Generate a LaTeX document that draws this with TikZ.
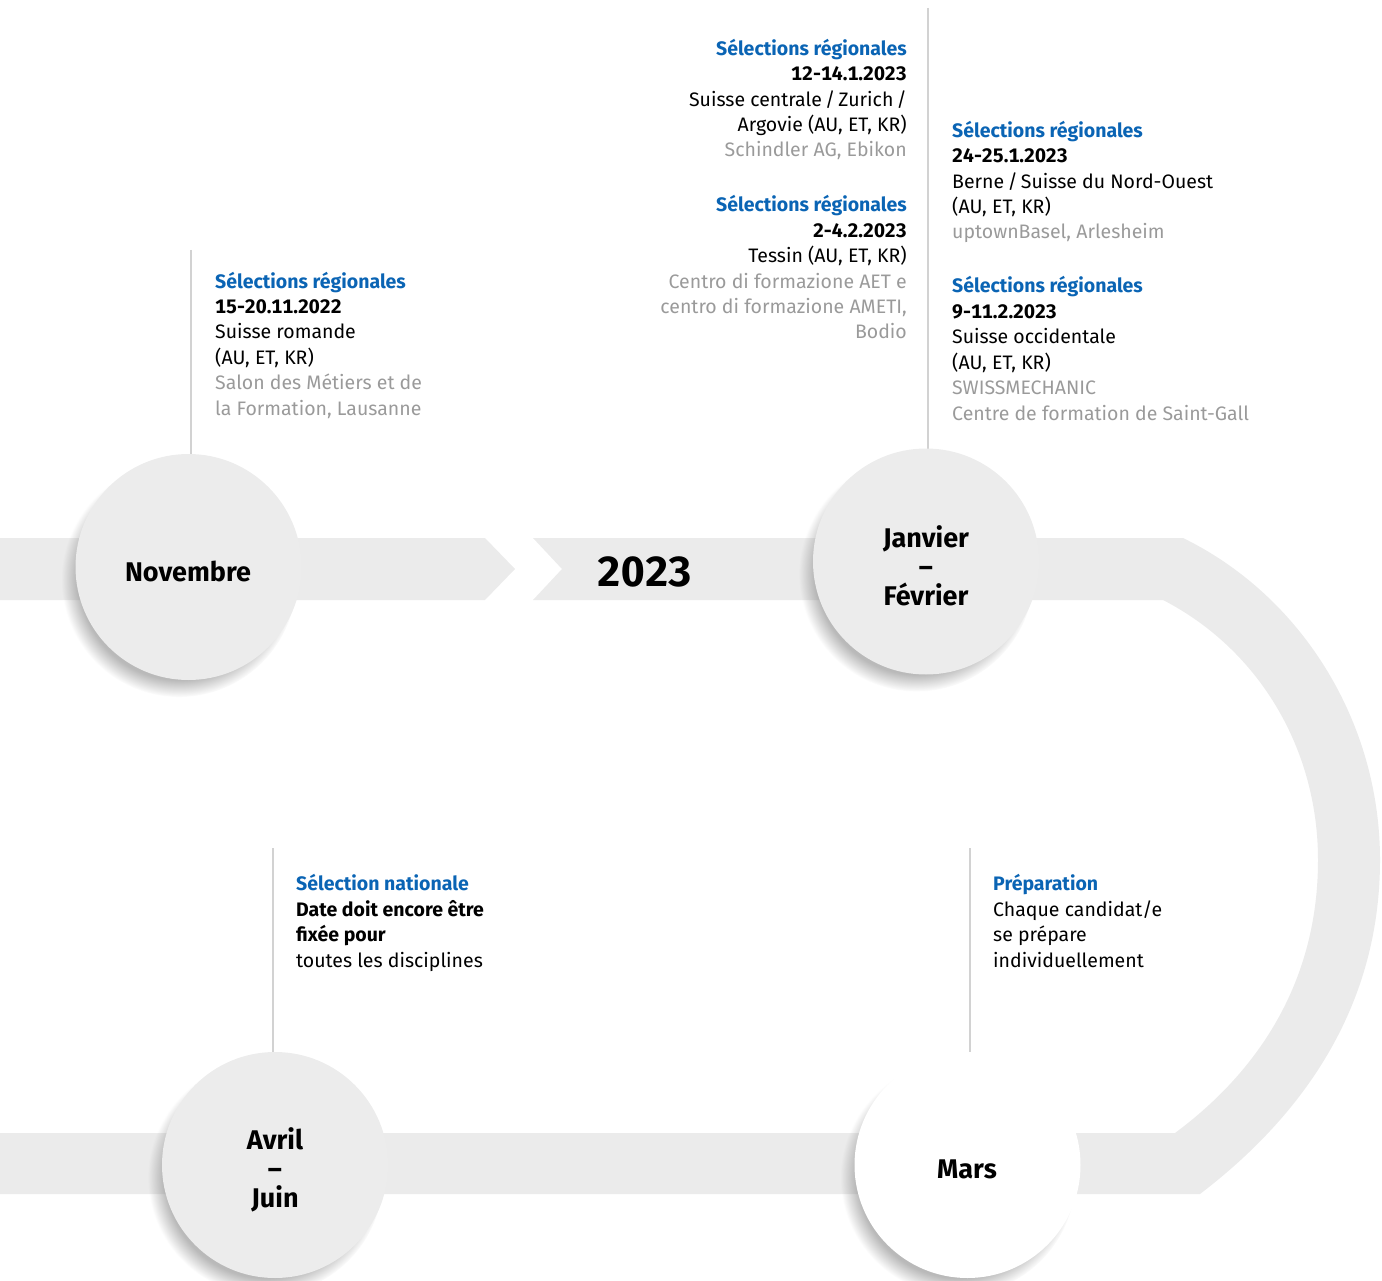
\documentclass[tikz,border=0pt]{standalone}
\usepackage{fontspec}
\setmainfont{Fira Sans}[Numbers=Monospaced]
\usetikzlibrary{shadows,calc}
\definecolor{bandgray}{HTML}{EBEBEB}
\definecolor{circgray}{HTML}{ECECEC}
\definecolor{selblue}{HTML}{0A64B4}
\definecolor{txtgray}{HTML}{9A9A9A}
\definecolor{linegray}{HTML}{D2D2D2}
\tikzset{
  monthcirc/.style={circle, minimum size=226pt, inner sep=0pt, fill=circgray,
    circular drop shadow={shadow xshift=-9pt, shadow yshift=-12pt, shadow scale=1.04, opacity=0.55}},
  monthlbl/.style={inner sep=0pt, font=\fontsize{27}{29}\selectfont\bfseries, align=center},
  vline/.style={draw=linegray, line width=1.2pt},
  infoL/.style={anchor=base west, inner sep=0pt, align=left, font=\fontsize{19.5}{25.4}\selectfont},
  infoR/.style={anchor=base east, inner sep=0pt, align=right, font=\fontsize{19.5}{25.4}\selectfont},
}
\newcommand{\hd}[1]{{\bfseries\color{selblue}#1}}
\newcommand{\gr}[1]{{\color{txtgray}#1}}
\begin{document}
\begin{tikzpicture}[x=1pt,y=-1pt]
\useasboundingbox (0,0) rectangle (1382,1281);
% bands
\fill[bandgray] (0,538) -- (485,538) -- (515,569) -- (485,600) -- (0,600) -- cycle;
\fill[bandgray] (533,538) -- (1183,538)
  .. controls (1300,595) and (1380,720) .. (1380,860)
  .. controls (1380,1000) and (1310,1110) .. (1200,1194)
  -- (0,1194) -- (0,1133) -- (1175,1133)
  .. controls (1260,1070) and (1318,980) .. (1318,860)
  .. controls (1318,750) and (1260,650) .. (1163,600)
  -- (533,600) -- (562,569) -- cycle;
% connector lines
\coordinate (novtop) at (191,250);
\coordinate (jantop) at (928,8);
\coordinate (avrtop) at (273,848);
\coordinate (martop) at (970,848);
\coordinate (novbot) at (191,460);
\coordinate (janbot) at (928,455);
\coordinate (avrbot) at (273,1058);
\coordinate (marbot) at (970,1058);
\draw[vline] (novtop) -- (novbot);
\draw[vline] (jantop) -- (janbot);
\draw[vline] (avrtop) -- (avrbot);
\draw[vline] (martop) -- (marbot);
% circles
\node[monthcirc] (nov) at (188.5,567) {};
\node[monthcirc] (jan) at (926,561.5) {};
\node[monthcirc] (avr) at (275,1165) {};
\node[monthcirc, fill=white] (mar) at (967.5,1165) {};
\node[monthlbl] (novl) at (188,571) {Novembre};
\node[monthlbl] (janl) at (926,566) {Janvier\\–\\Février};
\node[monthlbl] (avrl) at (275,1170) {Avril\\–\\Juin};
\node[monthlbl] (marl) at (967,1169) {Mars};
\node[font=\fontsize{42}{42}\selectfont\bfseries, inner sep=0pt] (year) at (645,572) {2023};
% info texts (anchored at the baseline of their last line)
\node[infoL] (t1) at (215,415) {\hd{Sélections régionales}\\ \textbf{15-20.11.2022}\\ Suisse romande\\ (AU, ET, KR)\\ \gr{Salon des Métiers et de}\\ \gr{la Formation, Lausanne}};
\node[infoR] (t2) at (907,157) {\hd{Sélections régionales}\\ \textbf{12-14.1.2023}\\ Suisse centrale\,/\,Zurich\,/\\ Argovie (AU, ET, KR)\\ \gr{Schindler AG, Ebikon}};
\node[infoR] (t3) at (907,339) {\hd{Sélections régionales}\\ \textbf{2-4.2.2023}\\ Tessin (AU, ET, KR)\\ \gr{Centro di formazione AET e}\\ \gr{centro di formazione AMETI,}\\ \gr{Bodio}};
\node[infoL] (t4) at (952,239) {\hd{Sélections régionales}\\ \textbf{24-25.1.2023}\\ Berne\,/\,Suisse du Nord-Ouest\\ (AU, ET, KR)\\ \gr{uptownBasel, Arlesheim}};
\node[infoL] (t5) at (952,420) {\hd{Sélections régionales}\\ \textbf{9-11.2.2023}\\ Suisse occidentale\\ (AU, ET, KR)\\ \gr{SWISSMECHANIC}\\ \gr{Centre de formation de Saint-Gall}};
\node[infoL] (t6) at (296,967) {\hd{Sélection nationale}\\ \textbf{Date doit encore être}\\ \textbf{fixée pour}\\ toutes les disciplines};
\node[infoL] (t7) at (993,967) {\hd{Préparation}\\ Chaque candidat/e\\ se prépare\\ individuellement};
\end{tikzpicture}
\end{document}
